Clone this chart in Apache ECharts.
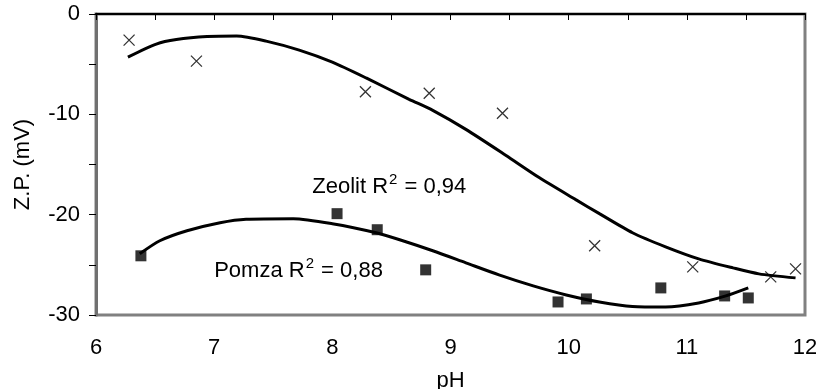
<!DOCTYPE html>
<html>
<head>
<meta charset="utf-8">
<script src="https://cdn.jsdelivr.net/npm/echarts@6/dist/echarts.min.js"></script>
<style>
html,body{margin:0;padding:0;background:#fff;}
#chart{width:816px;height:389px;}
</style>
</head>
<body>
<div id="chart"></div>
<script>
// Measured points
const zeolitPH = [6.28, 6.85, 8.28, 8.82, 9.44, 10.22, 11.05, 11.71, 11.92];
const zeolitZP = [-2.6, -4.7, -7.75, -7.9, -9.9, -23.1, -25.2, -26.2, -25.4];
const pomzaPH = [6.38, 8.04, 8.38, 8.79, 9.91, 10.15, 10.78, 11.32, 11.52];
const pomzaZP = [-24.1, -19.9, -21.5, -25.5, -28.7, -28.4, -27.3, -28.1, -28.3];

// Trend lines
const zeolitTrendPH = [6.27, 6.51, 6.68, 6.94, 7.19, 7.44, 7.72, 8.0, 8.29, 8.65, 8.85, 9.13, 9.47, 9.75, 10.06, 10.26, 10.54, 10.82, 11.1, 11.39, 11.61, 11.92];
const zeolitTrendZP = [-4.3, -3.0, -2.55, -2.25, -2.2, -2.7, -3.6, -4.8, -6.4, -8.5, -9.6, -11.5, -14.1, -16.3, -18.5, -19.9, -21.8, -23.2, -24.4, -25.3, -25.9, -26.3];
const pomzaTrendPH = [6.37, 6.54, 6.77, 7.05, 7.27, 7.67, 8.0, 8.37, 8.57, 8.85, 9.13, 9.41, 9.7, 9.98, 10.26, 10.54, 10.82, 11.1, 11.33, 11.52];
const pomzaTrendZP = [-23.9, -22.6, -21.6, -20.8, -20.45, -20.4, -20.9, -21.8, -22.5, -23.6, -24.8, -26.0, -27.1, -28.0, -28.7, -29.15, -29.2, -28.8, -28.1, -27.3];

// Annotations
const zeolitLabel = 'Zeolit R';
const zeolitR2 = '0,94';
const pomzaLabel = 'Pomza R';
const pomzaR2 = '0,88';

const xName = 'pH';
const yName = 'Z.P. (mV)';

const zip = (a, b) => a.map((v, i) => [v, b[i]]);
const FONT = 'Liberation Sans, Arial, sans-serif';
const FS = 22;

const rich = {
  a: {fontSize: FS, fontFamily: FONT, color: '#000', lineHeight: 28, verticalAlign: 'middle'},
  s: {fontSize: 15, fontFamily: FONT, color: '#000', lineHeight: 15, verticalAlign: 'top', padding: [0, 1, 0, 1]}
};

const chart = echarts.init(document.getElementById('chart'), null, {renderer: 'canvas'});
chart.setOption({
  animation: false,
  backgroundColor: '#fff',
  grid: {left: 96, top: 14, right: 11, bottom: 74, containLabel: false, outerBoundsMode: 'none',
    show: true, borderColor: '#808080', borderWidth: 3, backgroundColor: 'transparent'},
  xAxis: [
    {
      type: 'value', min: 6, max: 12, interval: 1, position: 'bottom',
      name: xName, nameLocation: 'middle', nameGap: 55,
      nameTextStyle: {fontSize: FS, fontFamily: FONT, color: '#000'},
      axisLine: {show: false}, axisTick: {show: false}, splitLine: {show: false},
      axisLabel: {fontSize: FS, fontFamily: FONT, color: '#000', margin: 22}
    },
    {
      type: 'value', min: 6, max: 12, interval: 0.5, position: 'top',
      axisLine: {show: true, onZero: false, lineStyle: {color: '#000', width: 2}},
      axisTick: {show: true, inside: true, length: 6, lineStyle: {color: '#000', width: 1}},
      axisLabel: {show: false}, splitLine: {show: false}
    }
  ],
  yAxis: {
    type: 'value', min: -30, max: 0, interval: 5,
    name: yName, nameLocation: 'middle', nameGap: 62, nameRotate: 90,
    nameTextStyle: {fontSize: FS, fontFamily: FONT, color: '#000'},
    axisLine: {show: true, onZero: false, lineStyle: {color: '#707070', width: 3}},
    axisTick: {show: true, length: 7, lineStyle: {color: '#000', width: 1}},
    splitLine: {show: false},
    axisLabel: {fontSize: FS, fontFamily: FONT, color: '#000', margin: 16,
      formatter: v => (v % 10 === 0 ? String(v) : '')}
  },
  series: [
    {
      type: 'line', name: 'Zeolit trend', data: zip(zeolitTrendPH, zeolitTrendZP),
      smooth: 0.25, showSymbol: false, symbol: 'none', lineStyle: {color: '#000', width: 3}, z: 3,
      markPoint: {
        symbol: 'circle', symbolSize: 0,
        label: {show: true, position: 'right', distance: 0,
          formatter: '{a|' + zeolitLabel + '}{s|2}{a| = ' + zeolitR2 + '}', rich: rich},
        data: [{coord: [7.83, -17.2]}]
      }
    },
    {
      type: 'line', name: 'Pomza trend', data: zip(pomzaTrendPH, pomzaTrendZP),
      smooth: 0.25, showSymbol: false, symbol: 'none', lineStyle: {color: '#000', width: 3}, z: 3,
      markPoint: {
        symbol: 'circle', symbolSize: 0,
        label: {show: true, position: 'right', distance: 0,
          formatter: '{a|' + pomzaLabel + '}{s|2}{a| = ' + pomzaR2 + '}', rich: rich},
        data: [{coord: [7.0, -25.6]}]
      }
    },
    {
      type: 'scatter', name: 'Zeolit', data: zip(zeolitPH, zeolitZP),
      symbol: 'path://M0,0L10,10M10,0L0,10', symbolSize: 11,
      itemStyle: {color: 'transparent', borderColor: '#000', borderWidth: 1.3}, z: 4
    },
    {
      type: 'scatter', name: 'Pomza', data: zip(pomzaPH, pomzaZP),
      symbol: 'rect', symbolSize: 11,
      itemStyle: {color: '#000'}, z: 4
    }
  ]
});
</script>
</body>
</html>
